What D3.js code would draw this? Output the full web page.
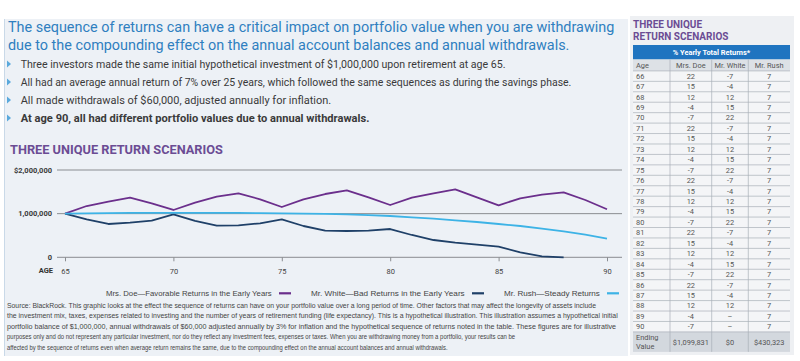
<!DOCTYPE html>
<html><head><meta charset="utf-8">
<script src="https://cdn.jsdelivr.net/npm/d3@7"></script>
<style>body{margin:0;background:#fff}svg{display:block}</style>
</head><body>
<script>
// ---------- DATA ----------
const ages = [65,66,67,68,69,70,71,72,73,74,75,76,77,78,79,80,81,82,83,84,85,86,87,88,89,90];
const doeValues = [1000000,1175000,1274000,1365000,1237000,1084000,1251000,1388000,1466000,1329000,1152000,1329000,1450000,1535000,1375000,1198000,1365000,1466000,1558000,1375000,1191000,1352000,1434000,1489000,1313000,1099831];
const whiteValues = [1000000,871000,763000,793000,838000,985000,832000,724000,733000,779000,871000,717000,609000,603000,609000,648000,511000,396000,335000,289000,243000,115000,20000,0,null,null];
const rushValues = [1000000,1007000,1012000,1016000,1018000,1019000,1019000,1018000,1016000,1012000,1007000,1000000,993000,985000,968000,946000,916000,884000,847000,809000,763000,717000,655000,595000,518000,430323];
const seriesNames = ["Mrs. Doe\u2014Favorable Returns in the Early Years","Mr. White\u2014Bad Returns in the Early Years","Mr. Rush\u2014Steady Returns"];
const seriesColors = ["#6b2f8c","#1f4068","#3db3e6"];
const yTicks = [0,1000000,2000000];
const yTickLabels = ["0","1,000,000","$2,000,000"];
const xTicks = [65,70,75,80,85,90];

const tableAges = ["66","67","68","69","70","71","72","73","74","75","76","77","78","79","80","81","82","83","84","85","86","87","88","89","90"];
const doeReturns = ["22","15","12","-4","-7","22","15","12","-4","-7","22","15","12","-4","-7","22","15","12","-4","-7","22","15","12","-4","-7"];
const whiteReturns = ["-7","-4","12","15","22","-7","-4","12","15","22","-7","-4","12","15","22","-7","-4","12","15","22","-7","-4","12","\u2013","\u2013"];
const rushReturns = ["7","7","7","7","7","7","7","7","7","7","7","7","7","7","7","7","7","7","7","7","7","7","7","7","7"];
const tableHeaders = ["Age","Mrs. Doe","Mr. White","Mr. Rush"];
const endingValues = ["$1,099,831","$0","$430,323"];

const titleLines = ["The sequence of returns can have a critical impact on portfolio value when you are withdrawing",
  "due to the compounding effect on the annual account balances and annual withdrawals."];
const bullets = ["Three investors made the same initial hypothetical investment of $1,000,000 upon retirement at age 65.",
  "All had an average annual return of 7% over 25 years, which followed the same sequences as during the savings phase.",
  "All made withdrawals of $60,000, adjusted annually for inflation.",
  "At age 90, all had different portfolio values due to annual withdrawals."];
const sourceLines = [
  "Source: BlackRock. This graphic looks at the effect the sequence of returns can have on your portfolio value over a long period of time. Other factors that may affect the longevity of assets include",
  "the investment mix, taxes, expenses related to investing and the number of years of retirement funding (life expectancy). This is a hypothetical illustration. This illustration assumes a hypothetical initial",
  "portfolio balance of $1,000,000, annual withdrawals of $60,000 adjusted annually by 3% for inflation and the hypothetical sequence of returns noted in the table. These figures are for illustrative",
  "purposes only and do not represent any particular investment, nor do they reflect any investment fees, expenses or taxes. When you are withdrawing money from a portfolio, your results can be",
  "affected by the sequence of returns even when average return remains the same, due to the compounding effect on the annual account balances and annual withdrawals."];

// ---------- DRAW ----------
const W = 800, H = 361;
const svg = d3.select("body").append("svg").attr("width", W).attr("height", H);
const FONT = "Roboto, 'Open Sans', sans-serif";
const NARROW = "'Liberation Sans Narrow', 'Liberation Sans', Arial, sans-serif";

// place a text at (x,y) and squeeze it horizontally to a target width
function fitText(parent, str, x, y, width, attrs) {
  const t = parent.append("text").attr("x",0).attr("y",0).text(str);
  Object.entries(attrs).forEach(([k,v]) => t.attr(k,v));
  const w = t.node().getComputedTextLength();
  const s = w > 0 ? width / w : 1;
  t.attr("transform", `translate(${x},${y}) scale(${s},1)`);
  return t;
}

// panels
svg.append("rect").attr("x",4).attr("y",19).attr("width",624).attr("height",337).attr("fill","#edf1f6");
svg.append("line").attr("x1",4.5).attr("x2",4.5).attr("y1",19).attr("y2",356).attr("stroke","#c9d9e8").attr("stroke-width",1);
svg.append("rect").attr("x",630).attr("y",16).attr("width",164).attr("height",339).attr("fill","#eef0f3");

// title
const titleWidths = [607, 562];
titleLines.forEach((t,i) => {
  fitText(svg, t, 8, 32 + i*18, titleWidths[i], {"font-family":FONT, "font-size":15, "fill":"#2f7fc0"});
});

// bullets
const bulletY = [64, 82, 100, 118];
const bulletWidths = [485, 551, 311, 349];
bullets.forEach((t,i) => {
  const y = bulletY[i];
  svg.append("path").attr("d",`M7,${y-3.5}L11,${y}L7,${y+3.5}Z`).attr("fill","#5aa9dc");
  fitText(svg, t, 20.7, y+3.8, bulletWidths[i], {"font-family":FONT, "font-size":11, "fill":"#3a3a3a", "font-weight": i===3 ? "bold" : "normal"});
});

// chart subtitle
fitText(svg, "THREE UNIQUE RETURN SCENARIOS", 10, 153.5, 213, {"font-family":FONT, "font-size":12, "font-weight":"bold", "fill":"#6b4c94"});

// scales
const x = d3.scaleLinear().domain([65,90]).range([65,607]);
const y = d3.scaleLinear().domain([0,2000000]).range([257.3,170]);

// grid
svg.append("g").selectAll("line").data(yTicks).join("line")
  .attr("x1",57).attr("x2",622).attr("y1",d=>y(d)).attr("y2",d=>y(d))
  .attr("stroke","#8a8d91").attr("stroke-width",1);
svg.append("g").selectAll("text").data(yTicks).join("text")
  .attr("x",52).attr("y",d=>y(d)).attr("dy","0.35em").attr("text-anchor","end")
  .text((d,i)=>yTickLabels[i])
  .attr("font-family",FONT).attr("font-size",7.5).attr("font-weight","bold").attr("fill","#3a3a3a");

// x axis
const xAxis = d3.axisBottom(x).tickValues(xTicks).tickSize(4).tickFormat(d3.format("d"));
const gx = svg.append("g").attr("transform","translate(0,257.3)").call(xAxis);
gx.select(".domain").remove();
gx.selectAll(".tick line").attr("stroke","#8a8d91");
gx.selectAll(".tick text").attr("font-family",FONT).attr("font-size",7.5).attr("fill","#444").attr("dy","1.3em");
svg.append("text").attr("x",53).attr("y",272.5).attr("text-anchor","end").text("AGE")
  .attr("font-family",FONT).attr("font-size",7.5).attr("font-weight","bold").attr("fill","#333");

// lines
const allSeries = [doeValues, whiteValues, rushValues];
const line = d3.line().defined(d => d[1] != null).x(d => x(d[0])).y(d => y(d[1]));
allSeries.forEach((vals,i) => {
  svg.append("path").datum(ages.map((a,j)=>[a, vals[j]]))
    .attr("fill","none").attr("stroke",seriesColors[i]).attr("stroke-width",1.8)
    .attr("stroke-linejoin","round").attr("d",line);
});

// legend
const legendTextX = [106, 311, 504];
const legendTextW = [166, 154, 96];
seriesNames.forEach((n,i) => {
  fitText(svg, n, legendTextX[i], 296, legendTextW[i], {"font-family":NARROW, "font-size":7.5, "fill":"#444"});
  const sx = legendTextX[i] + legendTextW[i] + 7;
  svg.append("line").attr("x1",sx).attr("x2",sx+12).attr("y1",293.3).attr("y2",293.3)
    .attr("stroke",seriesColors[i]).attr("stroke-width",2.2);
});

// source
const sourceW = [590, 612, 610, 509, 441];
sourceLines.forEach((t,i) => {
  fitText(svg, t, 7, 307.5 + i*10.5, sourceW[i], {"font-family":NARROW, "font-size":6.8, "fill":"#444"});
});

// ---------- TABLE ----------
svg.append("text").attr("x",633).attr("y",28).text("THREE UNIQUE")
  .attr("font-family",FONT).attr("font-size",10).attr("font-weight","bold").attr("fill","#6b4c94");
svg.append("text").attr("x",633).attr("y",40).text("RETURN SCENARIOS")
  .attr("font-family",FONT).attr("font-size",10).attr("font-weight","bold").attr("fill","#6b4c94");

const colEdges = [633, 670, 711.7, 748.3, 790];
const colCenters = [636, (670+711.7)/2, (711.7+748.3)/2, (748.3+790)/2];
const rowH = 10.44, row0 = 70.9;
const tbl = svg.append("g").attr("font-family",FONT).attr("font-size",7.4).attr("fill","#555");

tbl.append("rect").attr("x",633).attr("y",45).attr("width",157).attr("height",14.5).attr("fill","#1f74c0");
tbl.append("text").attr("x",711.5).attr("y",54.8).attr("text-anchor","middle").text("% Yearly Total Returns*")
  .attr("fill","#fff").attr("font-weight","bold");
tbl.append("rect").attr("x",633).attr("y",59.5).attr("width",157).attr("height",row0-59.5).attr("fill","#dde1e6");
tableHeaders.forEach((h,i)=>{
  tbl.append("text").attr("x",colCenters[i]).attr("y",68).attr("text-anchor", i===0?"start":"middle").text(h);
});
tbl.append("rect").attr("x",633).attr("y",row0).attr("width",157).attr("height",rowH*tableAges.length).attr("fill","#f4f5f7");
const cols = [tableAges, doeReturns, whiteReturns, rushReturns];
tableAges.forEach((a,r)=>{
  const yy = row0 + r*rowH;
  tbl.append("line").attr("x1",633).attr("x2",790).attr("y1",yy).attr("y2",yy).attr("stroke","#a9b0b8").attr("stroke-width",0.7);
  cols.forEach((c,i)=>{
    tbl.append("text").attr("x",colCenters[i]).attr("y",yy+rowH/2+2.6).attr("text-anchor", i===0?"start":"middle").text(c[r]);
  });
});
const endY = row0 + rowH*tableAges.length;
tbl.append("rect").attr("x",633).attr("y",endY).attr("width",157).attr("height",20).attr("fill","#d3d8de");
tbl.append("line").attr("x1",633).attr("x2",790).attr("y1",endY).attr("y2",endY).attr("stroke","#a9b0b8").attr("stroke-width",0.7);
tbl.append("text").attr("x",636).attr("y",339.5).text("Ending");
tbl.append("text").attr("x",636).attr("y",348.5).text("Value");
endingValues.forEach((v,i)=>{
  tbl.append("text").attr("x",colCenters[i+1]).attr("y",344.5).attr("text-anchor","middle").text(v);
});
colEdges.slice(1,4).forEach(cx=>{
  tbl.append("line").attr("x1",cx).attr("x2",cx).attr("y1",59.5).attr("y2",endY+20).attr("stroke","#a9b0b8").attr("stroke-width",0.7);
});
</script>
</body></html>
